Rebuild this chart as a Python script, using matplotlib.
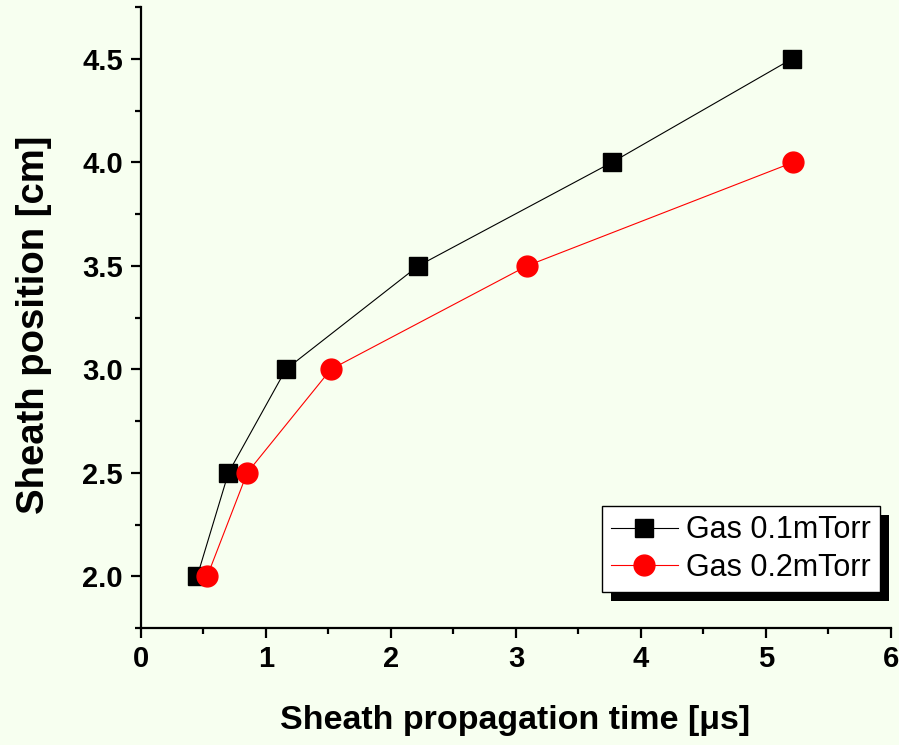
import matplotlib
matplotlib.use("Agg")
import matplotlib.pyplot as plt
import matplotlib.patheffects as pe
from matplotlib.ticker import MultipleLocator

# data
t_01 = [0.45, 0.70, 1.16, 2.22, 3.77, 5.21]
pos_01 = [2.0, 2.5, 3.0, 3.5, 4.0, 4.5]
t_02 = [0.53, 0.85, 1.52, 3.09, 5.22]
pos_02 = [2.0, 2.5, 3.0, 3.5, 4.0]

plt.rcParams['font.family'] = ['Liberation Sans', 'DejaVu Sans']
bg = '#f7fff0'

fig = plt.figure(figsize=(8.99, 7.45), dpi=100, facecolor=bg)
ax = fig.add_axes([0.1568, 0.157, 0.8342, 0.8336], facecolor=bg)

ax.plot(t_01, pos_01, '-', color='black', lw=0.8, marker='s', ms=12.5,
        label='Gas 0.1mTorr')
ax.plot(t_02, pos_02, '-', color='red', lw=0.8, marker='o', ms=15,
        label='Gas 0.2mTorr')

ax.set_xlim(0, 6)
ax.set_ylim(1.75, 4.75)
ax.xaxis.set_major_locator(MultipleLocator(1))
ax.xaxis.set_minor_locator(MultipleLocator(0.5))
ax.yaxis.set_major_locator(MultipleLocator(0.5))
ax.yaxis.set_minor_locator(MultipleLocator(0.25))
ax.yaxis.set_major_formatter(plt.FormatStrFormatter('%.1f'))

for s in ['top', 'right']:
    ax.spines[s].set_visible(False)
for s in ['left', 'bottom']:
    ax.spines[s].set_linewidth(1.6)

ax.tick_params(which='major', direction='out', length=7, width=1.6,
               labelsize=21, pad=6)
ax.tick_params(axis='x', which='major', pad=5)
ax.tick_params(which='minor', direction='out', length=4, width=1.6)
for lab in ax.get_xticklabels() + ax.get_yticklabels():
    lab.set_fontweight('bold')

ax.set_xlabel('Sheath propagation time [\u03bcs]', fontsize=24.5,
              fontweight='bold')
ax.set_ylabel('Sheath position [cm]', fontsize=27.5, fontweight='bold')
ax.xaxis.set_label_coords(0.499, -0.124)
ax.yaxis.set_label_coords(-0.119, 0.488)

leg = ax.legend(loc='lower right', bbox_to_anchor=(0.985, 0.058),
                borderaxespad=0, fontsize=22, fancybox=False,
                framealpha=1, edgecolor='black', handlelength=2.2,
                handletextpad=0.25, borderpad=0.3, labelspacing=0.25)
frame = leg.get_frame()
frame.set_linewidth(1.0)
frame.set_path_effects([pe.SimplePatchShadow(offset=(6.5, -6.5),
                                              shadow_rgbFace='black',
                                              alpha=1),
                        pe.Normal()])

fig.savefig('out.png', dpi=100, facecolor=bg)
